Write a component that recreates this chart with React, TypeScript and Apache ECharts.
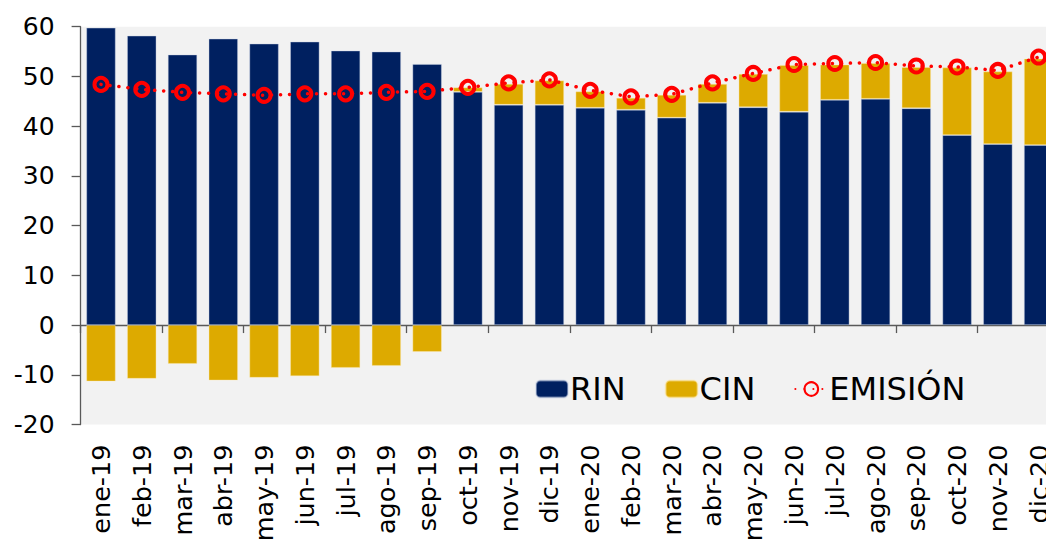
import React, { useEffect, useRef } from "react";
import * as echarts from "echarts";

const categories = [
  "ene-19", "feb-19", "mar-19", "abr-19", "may-19", "jun-19", "jul-19", "ago-19", "sep-19", "oct-19", "nov-19", "dic-19",
  "ene-20", "feb-20", "mar-20", "abr-20", "may-20", "jun-20", "jul-20", "ago-20", "sep-20", "oct-20", "nov-20", "dic-20",
];

const rin = [59.8, 58.2, 54.4, 57.6, 56.6, 57.0, 55.2, 55.0, 52.5, 46.9, 44.3, 44.3,
  43.7, 43.3, 41.7, 44.7, 43.8, 42.9, 45.3, 45.5, 43.6, 38.2, 36.4, 36.2];

const cin = [-11.35, -10.8, -7.8, -11.15, -10.6, -10.3, -8.6, -8.2, -5.4, 0.9, 4.2, 4.9,
  3.3, 2.4, 4.6, 3.8, 6.7, 9.4, 7.1, 7.2, 8.3, 13.6, 14.6, 17.4];

const emision = [48.4, 47.4, 46.8, 46.5, 46.2, 46.5, 46.5, 46.8, 47.0, 47.8, 48.7, 49.3,
  47.2, 45.9, 46.4, 48.7, 50.6, 52.4, 52.6, 52.8, 52.1, 51.9, 51.2, 53.9];

const yTicks = { min: -20, max: 60, interval: 10 };

export default function App() {
  const ref = useRef<HTMLDivElement>(null);
  useEffect(() => {
    if (!ref.current) return;
    const chart = echarts.init(ref.current, undefined, { renderer: "svg" });
    const font = "DejaVu Sans";
    chart.setOption({
      animation: false,
      textStyle: { fontFamily: font },
      grid: {
        left: 80.6,
        right: 0,
        top: 26.7,
        bottom: 116.5,
        show: true,
        backgroundColor: "#f2f2f2",
        borderWidth: 0,
        containLabel: false,
        outerBoundsMode: "none",
      },
      legend: {
        left: 535,
        top: 373,
        padding: 0,
        itemWidth: 32,
        itemHeight: 17,
        itemGap: 39,
        textStyle: { fontSize: 32, color: "#000", fontFamily: font, padding: [0, 0, 0, -3] },
        data: ["RIN", "CIN", "EMISIÓN"],
      },
      xAxis: [
        {
          type: "category",
          data: categories,
          axisLine: { show: true, onZero: true, lineStyle: { color: "#595959", width: 1.3 } },
          axisTick: { show: true, length: 8, lineStyle: { color: "#595959", width: 1.3 } },
          axisLabel: { show: false },
        },
        {
          type: "category",
          data: categories,
          position: "bottom",
          axisLine: { show: false },
          axisTick: { show: false },
          axisLabel: {
            show: true,
            rotate: 90,
            margin: 20,
            fontSize: 25.5,
            color: "#000",
            fontFamily: font,
            interval: 0,
          },
        },
      ],
      yAxis: {
        type: "value",
        min: yTicks.min,
        max: yTicks.max,
        interval: yTicks.interval,
        splitLine: { show: false },
        axisLine: { show: true, lineStyle: { color: "#595959", width: 1.3 } },
        axisTick: { show: true, length: 9, lineStyle: { color: "#595959", width: 1.3 } },
        axisLabel: { fontSize: 25, color: "#000", margin: 26, fontFamily: font },
      },
      series: [
        {
          name: "RIN",
          type: "bar",
          stack: "total",
          data: rin,
          barCategoryGap: "28%",
          itemStyle: { color: "#002060", borderColor: "rgba(200,210,230,0.5)", borderWidth: 0.8 },
        },
        {
          name: "CIN",
          type: "bar",
          stack: "total",
          data: cin,
          barCategoryGap: "28%",
          itemStyle: { color: "#DDAA00", borderColor: "rgba(255,235,180,0.5)", borderWidth: 0.8 },
        },
        {
          name: "EMISIÓN",
          type: "line",
          data: emision,
          z: 5,
          symbol: "circle",
          symbolSize: 13,
          lineStyle: { color: "#ff0000", width: 3.5, type: [0.1, 8.9], cap: "round" },
          itemStyle: { color: "rgba(0,0,0,0)", borderColor: "#ff0000", borderWidth: 4 },
        },
      ],
    });
    return () => chart.dispose();
  }, []);
  return (
    <div style={{ position: "absolute", left: 0, top: 0, width: 1046, height: 541, overflow: "hidden" }}>
      <div ref={ref} style={{ width: 1059, height: 541 }} />
    </div>
  );
}
